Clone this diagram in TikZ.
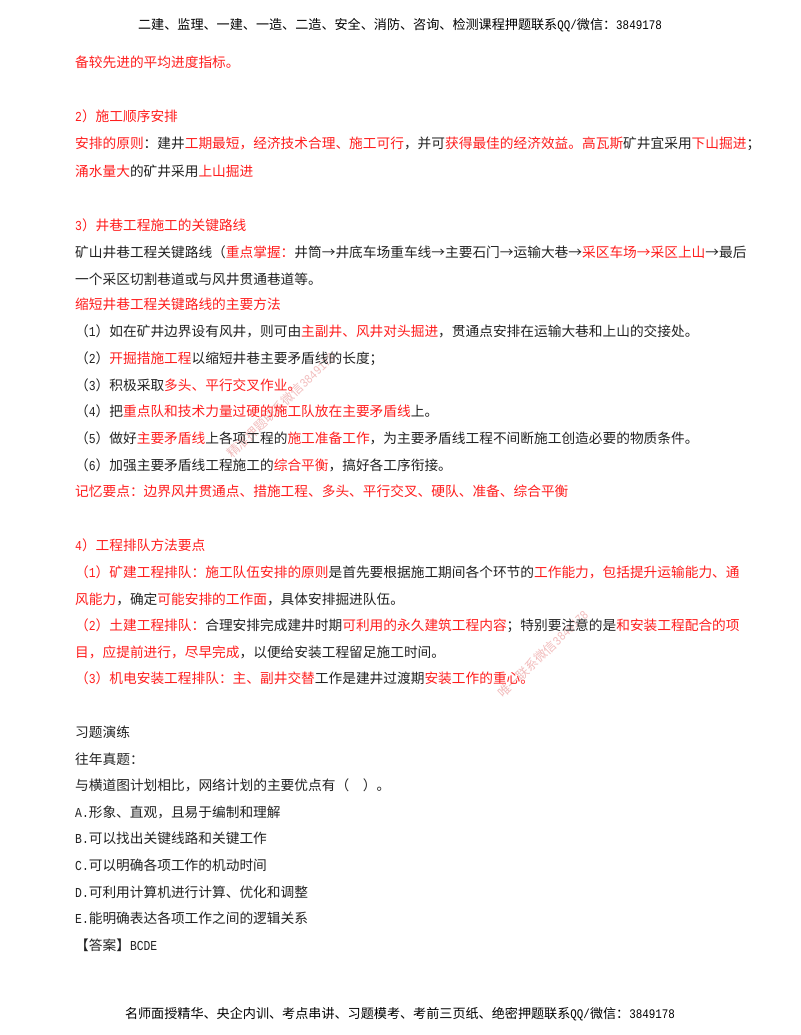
\documentclass[tikz,border=0pt]{standalone}
\usepackage{fontspec}
\setmainfont{Noto Sans CJK SC}
\newfontfamily\latf{Liberation Mono}[FakeStretch=0.83]
\definecolor{rd}{HTML}{FF1E1E}
\definecolor{ink}{HTML}{222222}
\definecolor{wm}{HTML}{F2BCBC}
\newcommand{\R}[1]{\textcolor{rd}{#1}}
\newcommand{\Lt}[1]{{\latf #1}}
\newcommand{\Ar}{\makebox[13.7pt][c]{→}}
\newcommand{\Cm}{^^^^ff0c}
\newcommand{\Cn}{^^^^ff1a}
\newcommand{\Sc}{^^^^ff1b}
\newcommand{\Lp}{^^^^ff08}
\newcommand{\Rp}{^^^^ff09}
\newcommand{\Lr}[2]{\node[bodyline] (l#1) at (75,#1) {#2};}
\tikzset{
 bodyline/.style={anchor=base west,inner sep=0pt,text=ink,font=\fontsize{13.7pt}{14pt}\selectfont},
 headline/.style={anchor=base,inner sep=0pt,text=black,font=\fontsize{13.1pt}{14pt}\selectfont},
 watermark/.style={anchor=base west,inner sep=0pt,text=wm,rotate=44,font=\fontsize{12.6pt}{13pt}\selectfont}
}
\begin{document}
\begin{tikzpicture}[x=1pt,y=-1pt]
\useasboundingbox (0,0) rectangle (800,1035);
\fill[white] (0,0) rectangle (800,1035);
\node[watermark] (w1) at (232,459) {精准押题联系微信\Lt{3849178}};
\node[watermark] (w2) at (503,699) {唯一联系微信\Lt{3849178}};
\node[headline] (h) at (400,30) {二建、监理、一建、一造、二造、安全、消防、咨询、检测课程押题联系\Lt{QQ/}微信\Cn \Lt{3849178}};
\Lr{68}{\R{备较先进的平均进度指标。}}
\Lr{122}{\R{\Lt{2}\Rp 施工顺序安排}}
\Lr{149}{\R{安排的原则}\Cn 建井\R{工期最短\Cm 经济技术合理、施工可行}\Cm 并可\R{获得最佳的经济效益。高瓦斯}矿井宜采用\R{下山掘进}\Sc }
\Lr{176}{\R{涌水量大}的矿井采用\R{上山掘进}}
\Lr{230}{\R{\Lt{3}\Rp 井巷工程施工的关键路线}}
\Lr{257}{矿山井巷工程关键路线\Lp \R{重点掌握\Cn }井筒\Ar 井底车场重车线\Ar 主要石门\Ar 运输大巷\Ar\R{采区车场\Ar 采区上山}\Ar 最后}
\Lr{284}{一个采区切割巷道或与风井贯通巷道等。}
\Lr{309}{\R{缩短井巷工程关键路线的主要方法}}
\Lr{336}{\Lp \Lt{1}\Rp 如在矿井边界设有风井\Cm 则可由\R{主副井、风井对头掘进}\Cm 贯通点安排在运输大巷和上山的交接处。}
\Lr{363}{\Lp \Lt{2}\Rp \R{开掘措施工程}以缩短井巷主要矛盾线的长度\Sc }
\Lr{390}{\Lp \Lt{3}\Rp 积极采取\R{多头、平行交叉作业。}}
\Lr{416}{\Lp \Lt{4}\Rp 把\R{重点队和技术力量过硬的施工队放在主要矛盾线}上。}
\Lr{443}{\Lp \Lt{5}\Rp 做好\R{主要矛盾线}上各项工程的\R{施工准备工作}\Cm 为主要矛盾线工程不间断施工创造必要的物质条件。}
\Lr{470}{\Lp \Lt{6}\Rp 加强主要矛盾线工程施工的\R{综合平衡}\Cm 搞好各工序衔接。}
\Lr{496}{\R{记忆要点\Cn 边界风井贯通点、措施工程、多头、平行交叉、硬队、准备、综合平衡}}
\Lr{550}{\R{\Lt{4}\Rp 工程排队方法要点}}
\Lr{577}{\R{\Lp \Lt{1}\Rp 矿建工程排队\Cn 施工队伍安排的原则}是首先要根据施工期间各个环节的\R{工作能力\Cm 包括提升运输能力、通}}
\Lr{604}{\R{风能力}\Cm 确定\R{可能安排的工作面}\Cm 具体安排掘进队伍。}
\Lr{630}{\R{\Lp \Lt{2}\Rp 土建工程排队\Cn }合理安排完成建井时期\R{可利用的永久建筑工程内容}\Sc 特别要注意的是\R{和安装工程配合的项}}
\Lr{657}{\R{目\Cm 应提前进行\Cm 尽早完成}\Cm 以便给安装工程留足施工时间。}
\Lr{683}{\R{\Lp \Lt{3}\Rp 机电安装工程排队\Cn 主、副井交替}工作是建井过渡期\R{安装工作的重心。}}
\Lr{737}{习题演练}
\Lr{764}{往年真题\Cn }
\Lr{790}{与横道图计划相比\Cm 网络计划的主要优点有\Lp \hspace{13.7pt}\Rp 。}
\Lr{817}{\Lt{A.}形象、直观\Cm 且易于编制和理解}
\Lr{843}{\Lt{B.}可以找出关键线路和关键工作}
\Lr{870}{\Lt{C.}可以明确各项工作的机动时间}
\Lr{897}{\Lt{D.}可利用计算机进行计算、优化和调整}
\Lr{923}{\Lt{E.}能明确表达各项工作之间的逻辑关系}
\Lr{950}{【答案】\Lt{BCDE}}
\node[headline] (f) at (400,1018) {名师面授精华、央企内训、考点串讲、习题模考、考前三页纸、绝密押题联系\Lt{QQ/}微信\Cn \Lt{3849178}};
\end{tikzpicture}
\end{document}
